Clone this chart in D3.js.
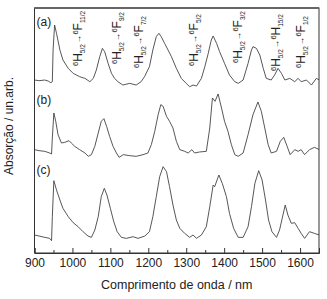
<!DOCTYPE html>
<html>
<head>
<meta charset="utf-8">
<script src="https://cdn.jsdelivr.net/npm/d3@7"></script>
<style>
  body { margin: 0; background: #fff; }
  text { font-family: Arial, "Liberation Sans", sans-serif; fill: #222; }
</style>
</head>
<body>
<div id="chart"></div>
<script>
// spectra (wavelength in nm, absorbance in arb. units)
var wlA = [900,912,927,936,943,947,949,953,958,967,975,989,1002,1019,1033,1046,1055,1063,1072,1079,1085,1094,1103,1111,1120,1133,1151,1168,1181,1190,1203,1212,1221,1228,1234,1243,1252,1261,1274,1287,1300,1309,1318,1327,1340,1349,1358,1366,1371,1380,1388,1401,1414,1428,1437,1450,1463,1472,1476,1485,1494,1503,1511,1524,1533,1542,1551,1560,1573,1586,1595,1603,1617,1630,1643,1651];
var absA = [0.10,0.09,0.10,0.085,0.06,0.075,0.55,0.925,0.80,0.55,0.40,0.275,0.20,0.15,0.125,0.075,0.125,0.25,0.45,0.575,0.525,0.35,0.20,0.125,0.075,0.025,0.05,0.025,0.075,0.15,0.30,0.55,0.75,0.80,0.75,0.65,0.55,0.45,0.275,0.125,0.05,0.0,0.025,0.01,0.125,0.30,0.50,0.70,0.76,0.65,0.525,0.35,0.175,0.075,0.05,0.10,0.35,0.55,0.60,0.575,0.475,0.275,0.125,0.10,0.175,0.275,0.20,0.10,0.125,0.075,0.125,0.075,0.10,0.025,0.125,0.10];

var wlB = [900,912,927,940,945,947,951,956,962,971,980,991,997,1006,1019,1033,1042,1050,1059,1068,1076,1083,1090,1098,1107,1116,1123,1134,1151,1168,1186,1199,1208,1217,1226,1233,1239,1248,1256,1265,1274,1283,1296,1305,1315,1322,1335,1353,1362,1369,1376,1384,1393,1401,1410,1419,1428,1437,1450,1463,1476,1489,1498,1507,1516,1524,1538,1548,1557,1566,1574,1586,1595,1603,1612,1625,1638,1651];
var absB = [0.125,0.11,0.10,0.075,0.06,0.30,0.675,0.55,0.35,0.225,0.235,0.26,0.225,0.175,0.125,0.075,0.025,0.05,0.175,0.375,0.55,0.59,0.475,0.325,0.175,0.075,0.01,0.05,0.035,0.025,0.05,0.075,0.20,0.40,0.65,0.80,0.775,0.625,0.55,0.45,0.25,0.125,0.10,0.075,0.125,0.075,0.09,0.10,0.45,0.90,0.85,0.96,0.75,0.55,0.40,0.20,0.05,0.025,0.075,0.35,0.65,0.84,0.70,0.45,0.20,0.075,0.10,0.25,0.31,0.175,0.05,0.125,0.10,0.125,0.05,0.125,0.16,0.125];

var wlC = [900,912,927,940,945,947,951,958,967,975,989,1002,1015,1028,1041,1050,1059,1068,1076,1084,1091,1100,1109,1118,1129,1142,1160,1173,1191,1203,1212,1221,1230,1239,1248,1256,1265,1274,1283,1296,1309,1318,1327,1340,1353,1362,1371,1375,1386,1395,1406,1414,1425,1437,1450,1463,1472,1481,1491,1500,1509,1517,1526,1538,1546,1555,1561,1568,1577,1586,1595,1603,1612,1625,1638,1651];
var absC = [0.10,0.085,0.065,0.05,0.015,0.375,0.915,0.775,0.625,0.50,0.375,0.285,0.225,0.15,0.085,0.065,0.175,0.375,0.675,0.80,0.70,0.50,0.30,0.15,0.065,0.05,0.075,0.05,0.085,0.15,0.375,0.675,0.975,1.125,1.05,0.825,0.55,0.325,0.20,0.125,0.065,0.10,0.05,0.10,0.225,0.525,0.85,0.825,1.00,0.875,0.675,0.425,0.20,0.065,0.065,0.225,0.525,0.875,1.065,0.925,0.625,0.325,0.15,0.065,0.175,0.40,0.55,0.40,0.275,0.285,0.20,0.125,0.05,0.15,0.125,0.10];

var panelLabels = ["(a)", "(b)", "(c)"];
var xTicks = [900,1000,1100,1200,1300,1400,1500,1600];

// transitions marked on spectrum (a)
var transWl = [1014, 1117, 1175, 1320, 1436, 1536, 1602];
var transTo = [["F","11/2"],["F","9/2"],["F","7/2"],["F","5/2"],["F","3/2"],["H","15/2"],["F","1/2"]];

var margin = {top: 8, right: 8, bottom: 46, left: 34.5},
    width = 327 - margin.left - margin.right,
    height = 299 - margin.top - margin.bottom;

var svg = d3.select("#chart")
  .append("svg")
    .attr("width", 327)
    .attr("height", 299)
  .append("g")
    .attr("transform", "translate(" + margin.left + "," + margin.top + ")");

var x = d3.scaleLinear()
  .domain([900, 1650])
  .range([0, width]);

// one vertical scale per stacked spectrum
var yScales = [
  d3.scaleLinear().domain([0, 1]).range([78.7, 12]),
  d3.scaleLinear().domain([0, 1]).range([150, 83.3]),
  d3.scaleLinear().domain([0, 1]).range([233.7, 167])
];
var series = [
  wlA.map(function(w, i) { return [w, absA[i]]; }),
  wlB.map(function(w, i) { return [w, absB[i]]; }),
  wlC.map(function(w, i) { return [w, absC[i]]; })
];

svg.append("clipPath").attr("id", "clip")
  .append("rect").attr("width", width).attr("height", height);

series.forEach(function(s, k) {
  var line = d3.line()
    .x(function(d) { return x(d[0]); })
    .y(function(d) { return yScales[k](d[1]); });
  svg.append("path")
    .datum(s)
    .attr("clip-path", "url(#clip)")
    .attr("fill", "none")
    .attr("stroke", "#444")
    .attr("stroke-width", 0.9)
    .attr("stroke-linejoin", "round")
    .attr("d", line);
});

// frame
svg.append("rect")
  .attr("width", width)
  .attr("height", height)
  .attr("fill", "none")
  .attr("stroke", "#333")
  .attr("stroke-width", 1);
svg.append("line")
  .attr("x1", 0).attr("x2", width)
  .attr("y1", 0).attr("y2", 0)
  .attr("stroke", "#666")
  .attr("stroke-width", 2);

// X axis, ticks pointing inwards
svg.append("g")
  .attr("transform", "translate(0," + height + ")")
  .call(d3.axisBottom(x).tickValues(d3.range(950, 1650, 100)).tickSize(-3).tickFormat(""))
  .call(function(g) { g.select(".domain").remove(); });
var xa = svg.append("g")
  .attr("transform", "translate(0," + height + ")")
  .call(d3.axisBottom(x).tickValues(xTicks).tickSize(-5).tickPadding(5).tickFormat(d3.format("d")));
xa.select(".domain").attr("stroke", "#333");
svg.selectAll(".tick line").attr("stroke", "#333");
xa.selectAll(".tick text")
  .attr("font-size", 12)
  .attr("font-family", "Arial, 'Liberation Sans', sans-serif")
  .attr("fill", "#222");

// axis titles
svg.append("text")
  .attr("text-anchor", "middle")
  .attr("x", width / 2)
  .attr("y", height + 36)
  .style("font-size", "12.5px")
  .text("Comprimento de onda / nm");

svg.append("text")
  .attr("text-anchor", "middle")
  .attr("transform", "rotate(-90)")
  .attr("x", -118)
  .attr("y", -22)
  .style("font-size", "12px")
  .text("Absorção / un.arb.");

// panel labels
var labelY = [18, 96, 166];
panelLabels.forEach(function(l, i) {
  svg.append("text")
    .attr("x", 2)
    .attr("y", labelY[i])
    .style("font-size", "12px")
    .text(l);
});

// rotated transition labels  6H5/2 -> 6X
var bottoms = [58, 56, 60, 58, 55, 63, 60];
transWl.forEach(function(w, i) {
  var t = svg.append("text")
    .attr("transform", "translate(" + (x(w) + 4.5) + "," + bottoms[i] + ") rotate(-90)")
    .style("font-size", "12px");
  t.append("tspan").attr("dy", -4.5).style("font-size", "7.5px").text("6");
  t.append("tspan").attr("dy", 4.5).text("H");
  t.append("tspan").attr("dy", 2.5).style("font-size", "6.5px").text("5/2");
  t.append("tspan").attr("dy", -3.5).attr("dx", 0.5).style("font-size", "8.5px").text("\u2192");
  t.append("tspan").attr("dy", -3.5).attr("dx", 0.5).style("font-size", "7.5px").text("6");
  t.append("tspan").attr("dy", 4.5).text(transTo[i][0]);
  t.append("tspan").attr("dy", 2.5).style("font-size", "6.5px").text(transTo[i][1]);
});
</script>
</body>
</html>
